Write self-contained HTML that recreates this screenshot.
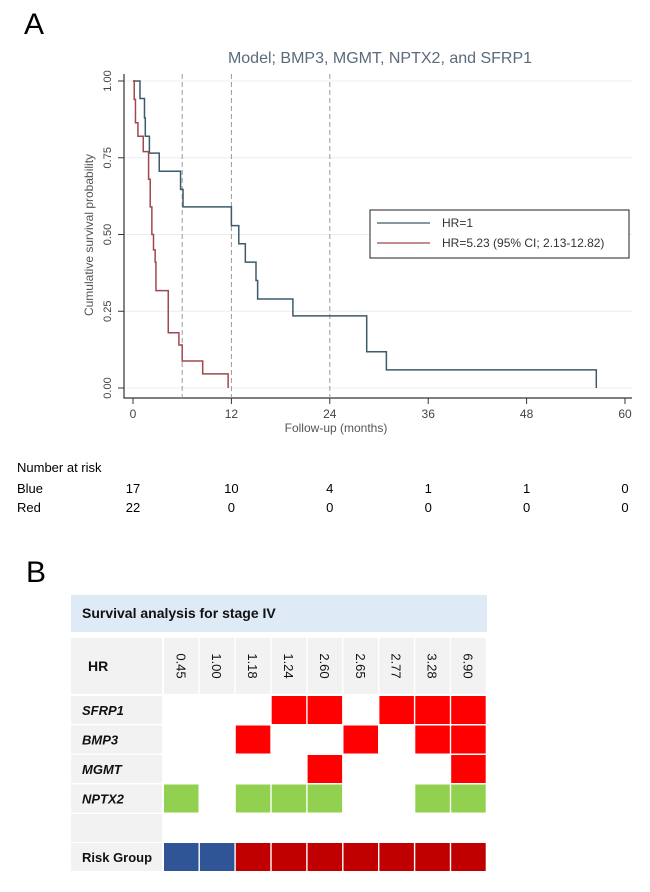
<!DOCTYPE html>
<html><head><meta charset="utf-8"><style>
body{margin:0;background:#fff;width:650px;height:892px;overflow:hidden;font-family:"Liberation Sans",sans-serif;}
.abs{position:absolute;}
</style></head><body>
<div style="position:relative;width:650px;height:892px">
<div class="abs" style="left:24px;top:8px;font-size:30px">A</div>
<div class="abs" style="left:26px;top:556px;font-size:30px">B</div>
<svg class="abs" style="left:0;top:0" width="650" height="540" id="km"></svg>
<div class="abs" style="left:0;top:0;width:650px;height:540px;font-size:13px" id="risk"></div>
<svg class="abs" style="left:0;top:0" width="650" height="892" id="tbl"></svg>
</div>
<script>
const xTicks=[0,12,24,36,48,60];
const yTicks=[0,0.25,0.5,0.75,1];
const refLines=[6,12,24];
const blueT=[0,0.85,1.4,1.5,2.0,3.2,5.8,6.1,12,12.9,13.7,15,15.2,19.5,28.5,30.9,56.5];
const blueS=[1,0.943,0.88,0.82,0.765,0.706,0.647,0.59,0.529,0.47,0.41,0.35,0.29,0.235,0.118,0.059,0];
const redT=[0,0.15,0.3,0.6,1.25,1.9,2.1,2.3,2.5,2.7,2.8,4.3,5.6,6.0,8.5,11.6];
const redS=[1,0.94,0.864,0.82,0.77,0.68,0.59,0.5,0.45,0.41,0.317,0.18,0.14,0.088,0.046,0];
const riskBlue=[17,10,4,1,1,0];
const riskRed=[22,0,0,0,0,0];
const hrVals=["0.45","1.00","1.18","1.24","2.60","2.65","2.77","3.28","6.90"];
const genes=["SFRP1","BMP3","MGMT","NPTX2"];
const sfrp1=[0,0,0,1,1,0,1,1,1];
const bmp3=[0,0,1,0,0,1,0,1,1];
const mgmt=[0,0,0,0,1,0,0,0,1];
const nptx2=[1,0,1,1,1,0,0,1,1];
const riskGroup=[0,0,1,1,1,1,1,1,1];

const NS="http://www.w3.org/2000/svg";
function mk(p,t,a){const e=document.createElementNS(NS,t);for(const k in a)e.setAttribute(k,a[k]);p.appendChild(e);return e;}
const km=document.getElementById('km');
const X=m=>133+m*(625-133)/60, Y=s=>388-s*307;
let e;
e=mk(km,'text',{x:380,y:63,'text-anchor':'middle','font-size':16,fill:'#5a6b7a'});e.textContent='Model; BMP3, MGMT, NPTX2, and SFRP1';

yTicks.forEach(v=>{
 e=mk(km,'line',{x1:124,x2:632,y1:Y(v),y2:Y(v),stroke:'#eaeef2','stroke-width':1});
 
 e=mk(km,'line',{x1:118,x2:124,y1:Y(v),y2:Y(v),stroke:'#333'});
 
 e=mk(km,'text',{x:0,y:0,transform:`translate(111,${Y(v)}) rotate(-90)`,'text-anchor':'middle','font-size':11,fill:'#444'});e.textContent=v.toFixed(2);
 
});
e=mk(km,'text',{x:0,y:0,transform:'translate(93,235) rotate(-90)','text-anchor':'middle','font-size':12,fill:'#555'});e.textContent='Cumulative survival probability';

xTicks.forEach(v=>{
 e=mk(km,'line',{x1:X(v),x2:X(v),y1:398,y2:404,stroke:'#333'});
 
 e=mk(km,'text',{x:X(v),y:418,'text-anchor':'middle','font-size':12,fill:'#444'});e.textContent=v;
 
});
e=mk(km,'text',{x:336,y:432,'text-anchor':'middle','font-size':12,fill:'#555'});e.textContent='Follow-up (months)';

e=mk(km,'polyline',{points:'124,74 124,398 632,398',fill:'none',stroke:'#333','stroke-width':1.2});

refLines.forEach(v=>{
 e=mk(km,'line',{x1:X(v),x2:X(v),y1:74,y2:398,stroke:'#999','stroke-dasharray':'5,3'});
 
});
function step(T,S,col,name){
 let p=`${X(T[0])},${Y(S[0])}`;
 for(let i=1;i<T.length;i++){p+=` ${X(T[i])},${Y(S[i-1])} ${X(T[i])},${Y(S[i])}`;}
 e=mk(km,'polyline',{points:p,fill:'none',stroke:col,'stroke-width':1.5});
 
}
step(blueT,blueS,'#3d5a6b','blue-survival-curve');
step(redT,redS,'#a0484e','red-survival-curve');
e=mk(km,'rect',{x:370,y:210,width:259,height:48,fill:'#fff',stroke:'#222','stroke-width':1});

[['#3d5a6b','HR=1',227],['#a0484e','HR=5.23 (95% CI; 2.13-12.82)',247]].forEach(([c,t,y],i)=>{
 e=mk(km,'line',{x1:377,x2:430,y1:y-4,y2:y-4,stroke:c,'stroke-width':1.2});
 
 e=mk(km,'text',{x:442,y:y,'font-size':12,fill:'#333'});e.textContent=t;
 
});
// risk table
const risk=document.getElementById('risk');
function txt(s,x,y,anchor,name){const d=document.createElement('div');d.className='abs';d.textContent=s;
 d.style.left=x+'px';d.style.top=y+'px';if(anchor)d.style.transform='translateX(-50%)';
 risk.appendChild(d);}
txt('Number at risk',17,460,false,'risk-title');
txt('Blue',17,481,false,'risk-row-label');
txt('Red',17,500,false,'risk-row-label');
xTicks.forEach((v,i)=>{txt(String(riskBlue[i]),X(v),481,true,'risk-blue-value');txt(String(riskRed[i]),X(v),500,true,'risk-red-value');});
// table B
const tb=document.getElementById('tbl');
e=mk(tb,'rect',{x:71,y:595,width:416,height:37,fill:'#deeaf6'});

e=mk(tb,'text',{x:82,y:618,'font-size':14,'font-weight':'bold',fill:'#111'});e.textContent='Survival analysis for stage IV';

const colX=i=>164+i*35.9, cw=34.5;
const rowY=[696,725.5,755,784.5,814,843], rh=28;
e=mk(tb,'rect',{x:71,y:638,width:91,height:56,fill:'#f2f2f2'});

e=mk(tb,'text',{x:88,y:671,'font-size':14,'font-weight':'bold',fill:'#111'});e.textContent='HR';

hrVals.forEach((h,i)=>{
 e=mk(tb,'rect',{x:colX(i),y:638,width:cw,height:56,fill:'#f2f2f2'});
 
 e=mk(tb,'text',{x:0,y:0,transform:`translate(${colX(i)+cw/2-5},${666}) rotate(90)`,'text-anchor':'middle','font-size':13,fill:'#111'});e.textContent=h;
 
});
const geneData=[sfrp1,bmp3,mgmt,nptx2];
const rowLabels=["SFRP1","BMP3","MGMT","NPTX2","","Risk Group"];
rowLabels.forEach((l,r)=>{
 e=mk(tb,'rect',{x:71,y:rowY[r],width:91,height:rh,fill:'#f2f2f2'});
 
 e=mk(tb,'text',{x:82,y:rowY[r]+19,'font-size':13,'font-weight':'bold','font-style':r<4?'italic':'normal',fill:'#111'});e.textContent=l;
 
});
geneData.forEach((arr,r)=>arr.forEach((v,i)=>{
 if(!v)return;
 e=mk(tb,'rect',{x:colX(i),y:rowY[r],width:cw,height:rh,fill:r==3?'#92d050':'#ff0000'});
 
}));
riskGroup.forEach((v,i)=>{
 e=mk(tb,'rect',{x:colX(i),y:rowY[5],width:cw,height:rh,fill:v?'#c00000':'#2f5597'});
 
});
</script>
</body></html>
